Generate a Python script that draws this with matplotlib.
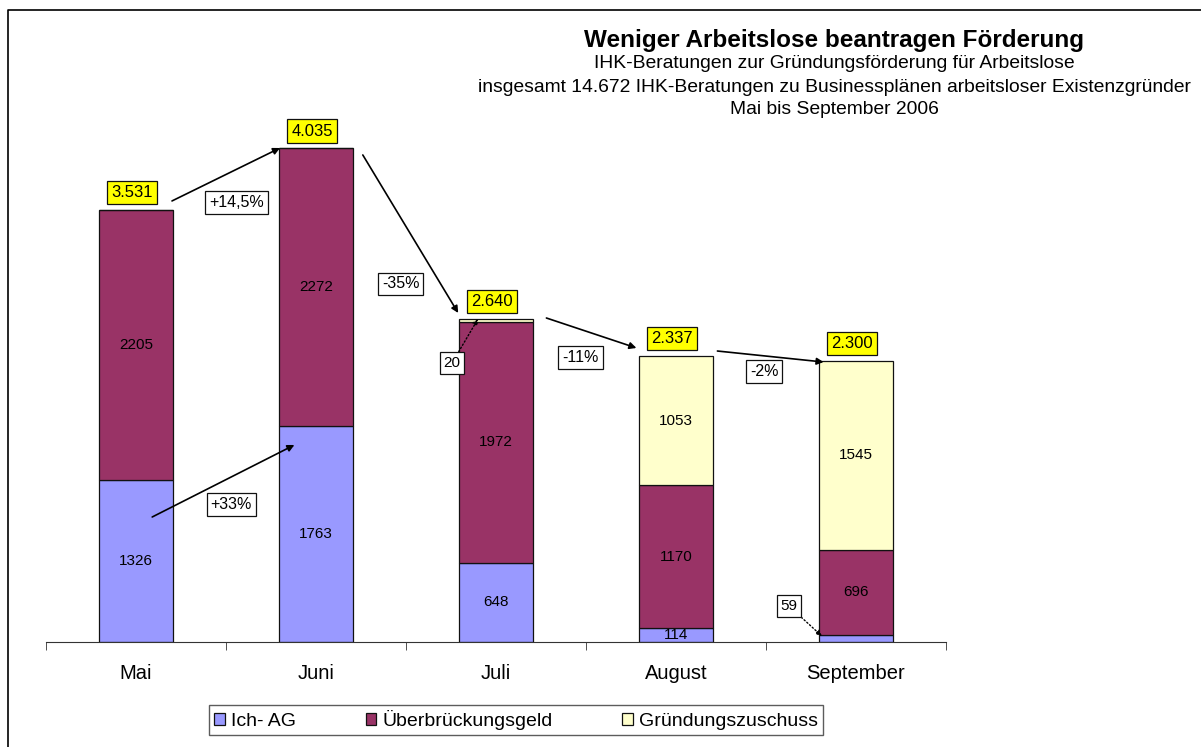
import numpy as np
import matplotlib
matplotlib.use("Agg")
import matplotlib.pyplot as plt
from matplotlib.patches import Patch
from matplotlib.lines import Line2D

plt.rcParams['font.family'] = ['Liberation Sans', 'DejaVu Sans']

# data
monate = ['Mai', 'Juni', 'Juli', 'August', 'September']
ich_ag = [1326, 1763, 648, 114, 59]
ueberbrueckung = [2205, 2272, 1972, 1170, 696]
gruendung = [0, 0, 20, 1053, 1545]
gesamt = ['3.531', '4.035', '2.640', '2.337', '2.300']
serien = ['Ich- AG', 'Überbrückungsgeld', 'Gründungszuschuss']
farben = ['#9999FF', '#993366', '#FFFFCC']

# percent changes between months: (label, start, end, label position)
pfeile = [
    ('+14,5%', (0.20, 3606), (0.80, 4039), (0.56, 3590)),
    ('+33%', (0.09, 1022), (0.88, 1611), (0.53, 1128)),
    ('-35%', (1.26, 3982), (1.79, 2690), (1.47, 2927)),
    ('-11%', (2.28, 2649), (2.78, 2404), (2.47, 2330)),
    ('-2%', (3.23, 2379), (3.82, 2289), (3.49, 2208)),
]

fig = plt.figure(figsize=(12.01, 7.47), dpi=100)
ax = fig.add_axes([46 / 1201, 105 / 747, 900 / 1201, 550.4 / 747])

x = np.arange(len(monate))
w = 0.41
ich = np.array(ich_ag)
ueb = np.array(ueberbrueckung)
gru = np.array(gruendung)
kw = dict(width=w, edgecolor='#111111', linewidth=0.9)
b1 = ax.bar(x, ich, color=farben[0], **kw)
b2 = ax.bar(x, ueb, bottom=ich, color=farben[1], **kw)
b3 = ax.bar(x, gru, bottom=ich + ueb, color=farben[2], **kw)

# segment labels inside the bars
for i in range(len(monate)):
    if ich[i] > 100:
        ax.text(x[i], ich[i] / 2, str(ich[i]), ha='center', va='center', fontsize=11)
    ax.text(x[i], ich[i] + ueb[i] / 2, str(ueb[i]), ha='center', va='center', fontsize=11)
    if gru[i] > 100:
        ax.text(x[i], ich[i] + ueb[i] + gru[i] / 2, str(gru[i]), ha='center', va='center', fontsize=11)

# totals in yellow boxes
summe = ich + ueb + gru
for i in range(len(monate)):
    ax.annotate(gesamt[i], (x[i] - 0.02, summe[i]), xytext=(0, 12.5), textcoords='offset points',
                ha='center', va='center', fontsize=12,
                bbox=dict(boxstyle='square,pad=0.25', fc='#FFFF00', ec='#111111', lw=0.9))

# small values outside
ax.annotate(str(gru[2]), xy=(1.90, 2641), xytext=(1.756, 2282), ha='center', va='center', fontsize=11,
            bbox=dict(boxstyle='square,pad=0.25', fc='white', ec='#111111', lw=0.9),
            arrowprops=dict(arrowstyle='-|>', ls=':', color='black', lw=1, mutation_scale=8,
                            shrinkA=0, shrinkB=0))
ax.annotate(str(ich[4]), xy=(3.81, 49), xytext=(3.628, 294), ha='center', va='center', fontsize=11,
            bbox=dict(boxstyle='square,pad=0.25', fc='white', ec='#111111', lw=0.9),
            arrowprops=dict(arrowstyle='-|>', ls=':', color='black', lw=1, mutation_scale=8,
                            shrinkA=0, shrinkB=0))

for lab, start, end, pos in pfeile:
    ax.annotate('', xy=end, xytext=start,
                arrowprops=dict(arrowstyle='-|>', color='black', lw=1.2, mutation_scale=10,
                                shrinkA=0, shrinkB=0))
    ax.text(pos[0], pos[1], lab, ha='center', va='center', fontsize=11.5,
            bbox=dict(boxstyle='square,pad=0.25', fc='white', ec='#111111', lw=0.9))

ax.set_xlim(-0.5, 4.5)
ax.set_ylim(0, 4500)
for s in ['top', 'right', 'left']:
    ax.spines[s].set_visible(False)
ax.spines['bottom'].set_color('#333333')
ax.set_yticks([])
ax.set_xticks(x)
ax.set_xticklabels(monate, fontsize=14.5)
ax.tick_params(axis='x', which='major', length=0, pad=16)
ax.set_xticks(np.arange(-0.5, 4.6, 1), minor=True)
ax.tick_params(axis='x', which='minor', length=6, color='#333333')

# titles
fig.text(834 / 1201, 1 - 40 / 747, 'Weniger Arbeitslose beantragen Förderung', ha='center', va='center',
         fontsize=17.5, fontweight='bold')
fig.text(834 / 1201, 1 - 64 / 747, 'IHK-Beratungen zur Gründungsförderung für Arbeitslose',
         ha='center', va='center', fontsize=13.9)
fig.text(834 / 1201, 1 - 87 / 747,
         'insgesamt 14.672 IHK-Beratungen zu Businessplänen arbeitsloser Existenzgründer',
         ha='center', va='center', fontsize=13.9)
fig.text(834 / 1201, 1 - 110 / 747, 'Mai bis September 2006', ha='center', va='center', fontsize=13.9)

# legend
handles = [Patch(facecolor=c, edgecolor='#111111', lw=0.9) for c in farben]
fig.legend(handles, serien, loc='center', bbox_to_anchor=(516 / 1201, 1 - 720 / 747), ncol=3,
           fontsize=14, frameon=True, fancybox=False, edgecolor='#333333', handlelength=0.55,
           handleheight=0.55, handletextpad=0.3, columnspacing=3.6, borderpad=0.25)

# outer frame (top and left)
fig.add_artist(Line2D([8 / 1201, 8 / 1201, 1], [0, 1 - 10 / 747, 1 - 10 / 747], color='black', lw=1.2))

fig.savefig('out.png', dpi=100)
